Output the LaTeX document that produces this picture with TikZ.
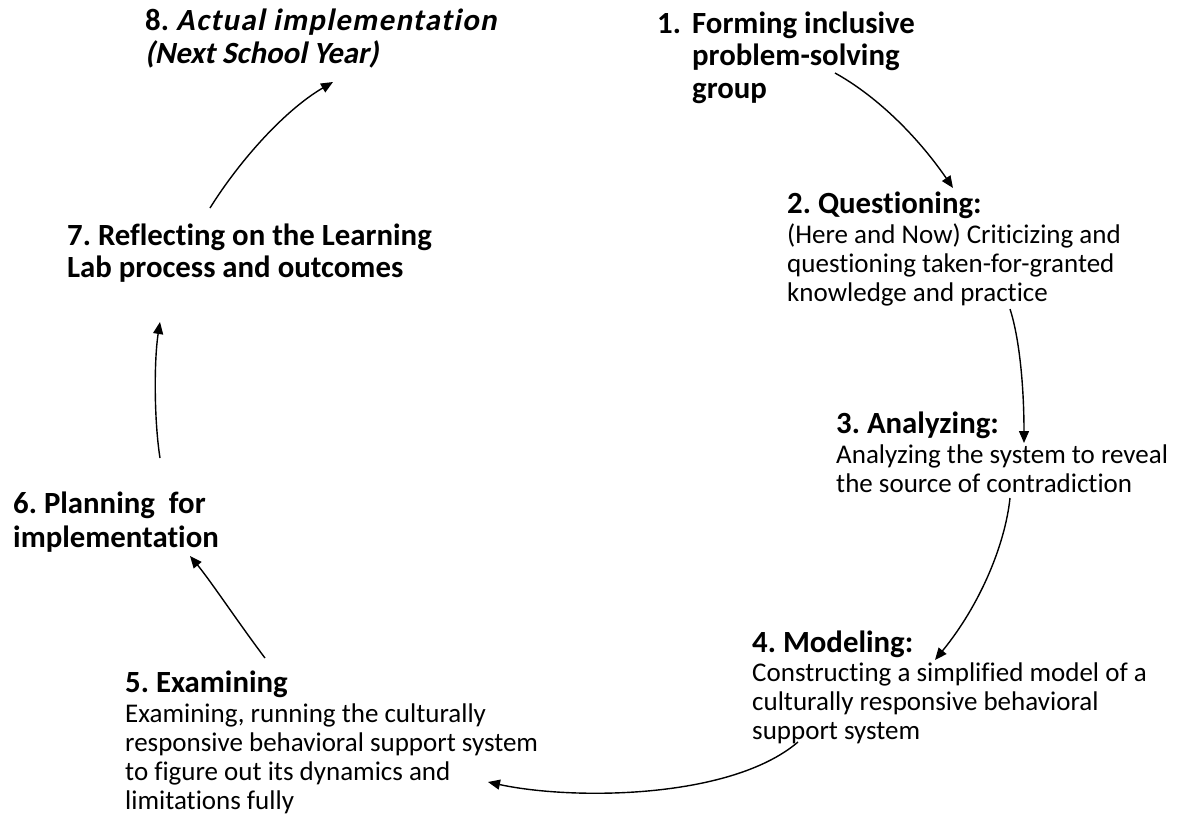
\documentclass[tikz,border=0pt]{standalone}
\usepackage{fontspec}
\setmainfont{Carlito}[Ligatures={CommonOff,ContextualOff}]
\newfontfamily\slantbold{Carlito}[UprightFont=*-Bold,FakeSlant=0.2,Ligatures={CommonOff,ContextualOff}]
\newfontfamily\slantboldwide{Carlito}[UprightFont=*-Bold,FakeSlant=0.2,LetterSpace=4.5,Ligatures={CommonOff,ContextualOff}]
\usetikzlibrary{arrows.meta}
\frenchspacing
\newcommand{\headfont}[1]{\fontsize{30.8}{#1}\selectfont\bfseries}
\newcommand{\bodyfont}{\fontsize{27}{29}\selectfont}
\begin{document}
\begin{tikzpicture}[x=1pt,y=-1pt,
  head/.style={anchor=north west,inner sep=0pt,align=left,font=\headfont{32}},
  body/.style={anchor=north west,inner sep=0pt,align=left,font=\bodyfont},
  flow/.style={line width=1.4pt,draw=black,-{Triangle[length=12pt,width=10pt]}}]
\useasboundingbox[fill=white] (0,0) rectangle (1181,814);

% stage labels
\node[head,font=\headfont{33}] (s8) at (145,6.9)
  {\strut 8. {\slantboldwide Actual implementation}\\{\slantbold (Next School Year)}};
\node[head,font=\headfont{32.5}] (s1) at (657,10.3)
  {\strut\makebox[35pt][l]{1.}Forming inclusive\\\hspace*{35pt}problem-solving\\\hspace*{35pt}group};
\node[head] (s2h) at (787,190.6) {\strut 2. Questioning:};
\node[body] (s2) at (787,222.7)
  {\strut (Here and Now) Criticizing and\\questioning taken-for-granted\\knowledge and practice};
\node[head] (s3h) at (836,410.6) {\strut 3. Analyzing:};
\node[body] (s3) at (836,442.7)
  {\strut Analyzing the system to reveal\\the source of contradiction};
\node[head] (s4h) at (752,629.6) {\strut 4. Modeling:};
\node[body] (s4) at (752,660.7)
  {\strut Constructing a simplified model of a\\culturally responsive behavioral\\support system};
\node[head] (s5h) at (125,669.6) {\strut 5. Examining};
\node[body] (s5) at (125,701.7)
  {\strut Examining, running the culturally\\responsive behavioral support system\\to figure out its dynamics and\\limitations fully};
\node[head,font=\headfont{34}] (s6) at (13,489.2)
  {\strut 6. Planning\ \ for\\implementation};
\node[head,font=\headfont{30}] (s7) at (67,224)
  {\strut 7. Reflecting on the Learning\\Lab process and outcomes};

% connector end points
\coordinate (a1s) at (835,73);   \coordinate (a1e) at (953,188);
\coordinate (a2s) at (1010,309); \coordinate (a2e) at (1024,443);
\coordinate (a3s) at (1010,498); \coordinate (a3e) at (935,660);
\coordinate (a4s) at (798,742);  \coordinate (a4e) at (488,782);
\coordinate (a5s) at (265,658);  \coordinate (a5e) at (190,556);
\coordinate (a6s) at (160,458);  \coordinate (a6e) at (160,322);
\coordinate (a7s) at (210,208);  \coordinate (a7e) at (333,82);

% cycle arrows
\draw[flow] (a1s) .. controls (880,98) and (920,140) .. (a1e);
\draw[flow] (a2s) .. controls (1020,340) and (1024,390) .. (a2e);
\draw[flow] (a3s) .. controls (1005,545) and (980,605) .. (a3e);
\draw[flow] (a4s) .. controls (730,800) and (570,800) .. (a4e);
\draw[flow] (a5s) .. controls (240,625) and (210,580) .. (a5e);
\draw[flow] (a6s) .. controls (154,420) and (154,360) .. (a6e);
\draw[flow] (a7s) .. controls (240,160) and (285,110) .. (a7e);
\end{tikzpicture}
\end{document}
